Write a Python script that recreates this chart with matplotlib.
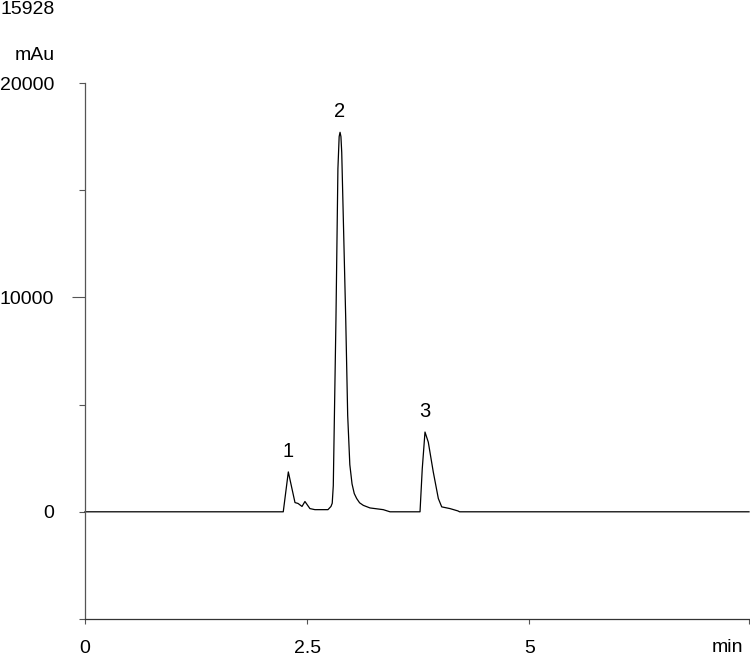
import matplotlib
matplotlib.use("Agg")
import matplotlib.pyplot as plt

plt.rcParams['font.family'] = ['Liberation Sans', 'DejaVu Sans']

# Chromatogram trace (time in min, signal in mAu)
time_min = [0.0, 2.231, 2.288, 2.363, 2.397, 2.442, 2.475, 2.531, 2.587, 2.734, 2.768,
            2.782, 2.794, 2.824, 2.846, 2.860, 2.870, 2.880, 2.889, 2.934, 2.956, 2.980,
            3.005, 3.030, 3.057, 3.090, 3.132, 3.207, 3.356, 3.432, 3.770, 3.795, 3.826,
            3.863, 3.919, 3.976, 4.014, 4.107, 4.197, 4.215, 7.472]
signal_mau = [0, 0, 1860, 430, 390, 250, 480, 150, 100, 100, 250,
              400, 1220, 8990, 16000, 17500, 17700, 17500, 16760, 8990, 4500, 2200,
              1300, 850, 620, 420, 300, 180, 100, 0, 0, 2000, 3720,
              3250, 1860, 620, 230, 150, 40, 0, 0]

peak_labels = ['1', '2', '3']
peak_times = [2.288, 2.870, 3.826]
peak_heights = [1860, 17700, 3720]

y_ticks = [-5000, 0, 5000, 10000, 15000, 20000]
y_tick_labels = ['', '0', '', '10000', '', '20000']
x_ticks = [0, 2.5, 5, 7.472]
x_tick_labels = ['0', '2.5', '5', '']

fig = plt.figure(figsize=(7.5, 6.57), dpi=100)
ax = fig.add_axes([85 / 750, 1 - 619 / 657, (749 - 85) / 750, (619 - 83) / 657])

ax.plot(time_min, signal_mau, color='black', lw=0.9, clip_on=False)

for lab, t, h in zip(peak_labels, peak_times, peak_heights):
    ax.annotate(lab, (t, h), xytext=(0, 8), textcoords='offset points',
                ha='center', va='bottom', fontsize=14.5, color='black')

ax.set_xlim(0, 7.472)
ax.set_ylim(-5000, 20000)
for s in ['top', 'right']:
    ax.spines[s].set_visible(False)
ax.spines['left'].set_color('#555555')
ax.spines['bottom'].set_color('#333333')
ax.spines['left'].set_linewidth(0.9)
ax.spines['bottom'].set_linewidth(0.9)

ax.set_yticks(y_ticks)
ax.set_yticklabels(y_tick_labels)
ax.set_xticks(x_ticks)
ax.set_xticklabels(x_tick_labels)
ax.tick_params(axis='y', length=4.3, width=0.8, color='#555555', pad=18, labelsize=14)
ax.tick_params(axis='x', length=3.5, width=0.8, color='#555555', pad=11.5, labelsize=14)

fig.canvas.draw()
ax.yaxis.get_major_ticks()[3].tick1line.set_markersize(9.4)

fig.text(1 - 23 / 750, 1 - 648 / 657, 'min', ha='center', va='center', fontsize=14)
fig.text(55 / 750, 1 - 55 / 657, 'mAu', ha='right', va='center', fontsize=14)
fig.text(1 / 750, 1 - 10 / 657, '15928', ha='left', va='center', fontsize=14)

fig.savefig('out.png', dpi=100)
